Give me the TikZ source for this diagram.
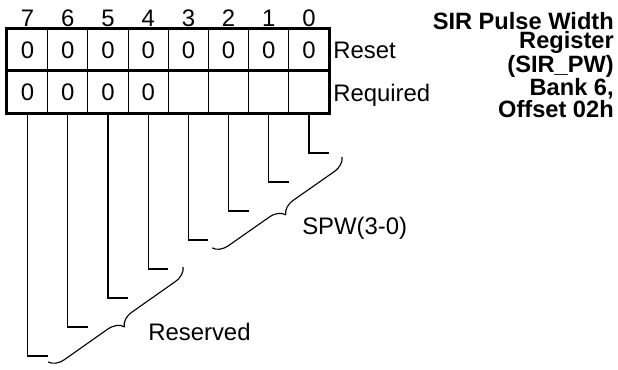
\documentclass[tikz,border=0pt]{standalone}
\usepackage{fontspec}
\setmainfont{Liberation Sans}
\usetikzlibrary{decorations.pathreplacing}
\begin{document}
\begin{tikzpicture}[x=0.025cm, y=-0.025cm, font=\fontsize{17}{20}\selectfont,
  bitcell/.style={draw, line width=0.8pt, minimum width=1.005cm, minimum height=1.05cm, inner sep=0pt},
  leader/.style={line width=0.8pt},
  bracket/.style={line width=0.8pt, decorate, decoration={brace, amplitude=0.375cm}},
  label/.style={anchor=base west, inner sep=0pt}]
  \useasboundingbox (0,0) rectangle (618,369);

  % Bit numbers, register cells and leader lines
  \foreach \b [evaluate=\b as \cx using 27.6+40.2*(7-\b)] in {0,...,7} {
    \node[inner sep=0pt] (bit-\b) at (\cx,18.5) {\b};
    \node[bitcell] (reset-\b) at (\cx,50) {0};
    \node[bitcell] (req-\b) at (\cx,92) {\ifnum\b>3 0\fi};
    \coordinate (end-\b) at (\cx+20,153+29*\b);
    \draw[leader] (req-\b.south) |- (end-\b);
  }

  % Heavy outline
  \draw[line width=2.2pt] (reset-7.north west) rectangle (req-0.south east);
  \draw[line width=2.2pt] (req-7.north west) -- (req-0.north east);

  % Row labels
  \node[label] (reset-label) at (333,58.5) {Reset};
  \node[label] (req-label) at (333,101) {Required};

  % Field braces
  \coordinate (spw-top) at (342,157);
  \coordinate (spw-bot) at (212,248);
  \draw[bracket] (spw-top) -- (spw-bot);
  \node[label] (spw-label) at (302,234) {SPW(3-0)};

  \coordinate (res-top) at (183,267);
  \coordinate (res-bot) at (48,362);
  \draw[bracket] (res-top) -- (res-bot);
  \node[label] (res-label) at (148,340) {Reserved};

  % Register title
  \node[anchor=north east, align=right, inner sep=0pt,
    font=\bfseries\fontsize{16.8}{13.8}\selectfont] (title) at (614,12)
    {SIR Pulse Width\\Register\\(SIR\_PW)\\Bank 6,\\Offset 02h};
\end{tikzpicture}
\end{document}
